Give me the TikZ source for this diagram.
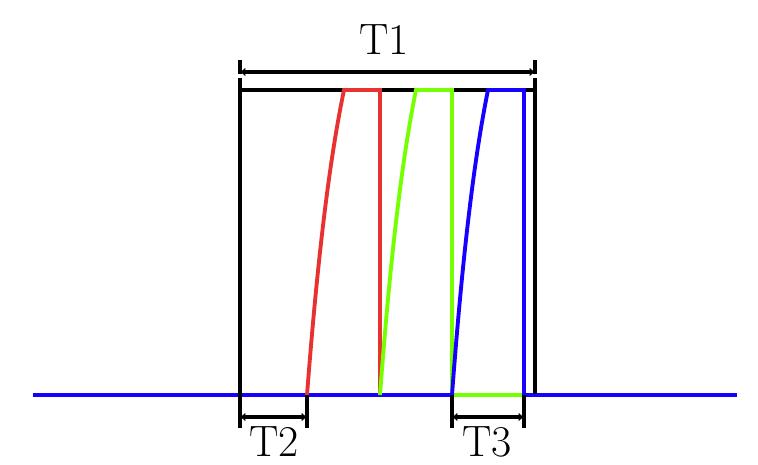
\documentclass[tikz,border=0pt]{standalone}
\usepackage{tikz}
\usetikzlibrary{arrows.meta}
\definecolor{pulsered}{RGB}{232,50,50}
\definecolor{pulsegreen}{RGB}{118,255,0}
\definecolor{pulseblue}{RGB}{22,0,255}

\begin{document}
\begin{tikzpicture}[x=0.02cm,y=-0.02cm,
edge/.style={line width=2pt},
wave/.style={line width=2.2pt},
dim/.style={line width=2pt,{Latex[length=3pt,width=5pt]}-{Latex[length=3pt,width=5pt]}},
lbl/.style={inner sep=0pt,font=\fontsize{25}{30}\selectfont}]
\useasboundingbox (0,0) rectangle (758,464);
% time axis
\coordinate (ax0) at (33,395);
\coordinate (ax1) at (737,395);
\draw[wave,pulseblue](ax0)--(ax1);
% ideal pulse
\coordinate (pl) at (240,78);
\coordinate (pr) at (535,78);
\draw[edge](240,90)--(535,90);
\draw[edge](pl)--(240,428);
\draw[edge](pr)--(535,394);
% red response
\draw[wave,pulsered] plot[domain=0:1,samples=40] ({307+37*\x},{395-305*(1-exp(-\x))/0.6321})
  --(380,90)--(380,395);
% green response
\draw[wave,pulsegreen] plot[domain=0:1,samples=40] ({380+36*\x},{395-305*(1-exp(-\x))/0.6321})
  --(452,90)--(452,395)--(524,395);
% blue response
\draw[wave,pulseblue] plot[domain=0:1,samples=40] ({452+36*\x},{395-305*(1-exp(-\x))/0.6321})
  --(524,90)--(524,395);
% T1
\coordinate (t1a) at (240,72);
\coordinate (t1b) at (535,72);
\draw[edge](240,60)--(240,74);
\draw[edge](535,60)--(535,74);
\draw[dim](t1a)--(t1b);
\node[lbl](T1) at (384,39.5){T1};
% T2
\coordinate (t2a) at (240,417);
\coordinate (t2b) at (307,417);
\draw[edge](307,395)--(307,428);
\draw[dim](t2a)--(t2b);
\node[lbl](T2) at (274,442){T2};
% T3
\coordinate (t3a) at (452,417);
\coordinate (t3b) at (524,417);
\draw[edge](452,395)--(452,428);
\draw[edge](524,395)--(524,428);
\draw[dim](t3a)--(t3b);
\node[lbl](T3) at (487,442){T3};
\end{tikzpicture}
\end{document}
